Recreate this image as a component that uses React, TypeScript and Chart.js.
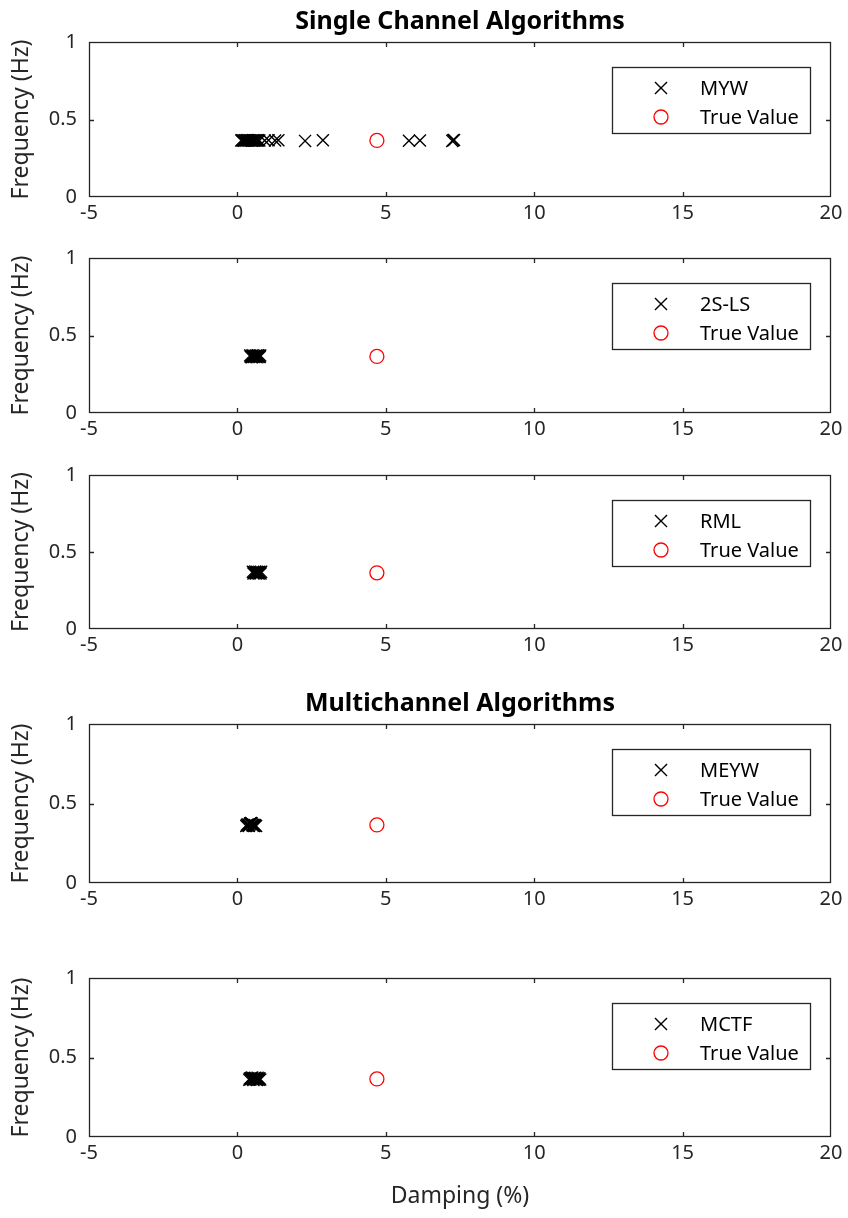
import { useEffect, useRef } from "react";
import { Chart, registerables } from "chart.js";

Chart.register(...registerables);

// ---------- data ----------
const xTickValues = [-5, 0, 5, 10, 15, 20];
const yTickValues = [0, 0.5, 1];

const trueDamping = [4.7];
const trueFreq = [0.365];

const mywDamping = [0.13, 0.16, 0.19, 0.22, 0.25, 0.28, 0.31, 0.34, 0.37, 0.40, 0.43, 0.46, 0.49, 0.52, 0.55, 0.58, 0.61, 0.64, 0.67, 0.70, 0.74, 0.92, 1.05, 1.27, 1.38, 2.28, 2.88, 5.78, 6.15, 7.24, 7.27, 7.3];
const mywFreq = [0.364, 0.366, 0.365, 0.363, 0.366, 0.365, 0.364, 0.367, 0.365, 0.364, 0.366, 0.365, 0.363, 0.366, 0.365, 0.364, 0.366, 0.365, 0.364, 0.366, 0.365, 0.364, 0.366, 0.365, 0.366, 0.362, 0.366, 0.363, 0.365, 0.362, 0.366, 0.368];

const lsDamping = [0.43, 0.45, 0.47, 0.49, 0.51, 0.53, 0.55, 0.57, 0.59, 0.61, 0.63, 0.65, 0.67, 0.69, 0.71, 0.73, 0.75, 0.77];
const lsFreq = [0.371, 0.362, 0.368, 0.360, 0.372, 0.365, 0.361, 0.370, 0.366, 0.363, 0.371, 0.360, 0.367, 0.372, 0.362, 0.369, 0.361, 0.371];

const rmlDamping = [0.52, 0.54, 0.56, 0.58, 0.60, 0.62, 0.64, 0.66, 0.68, 0.70, 0.72, 0.74, 0.76, 0.78, 0.80];
const rmlFreq = [0.372, 0.361, 0.368, 0.364, 0.373, 0.360, 0.366, 0.371, 0.362, 0.369, 0.360, 0.372, 0.365, 0.361, 0.371];

const meywDamping = [0.30, 0.32, 0.34, 0.36, 0.38, 0.40, 0.42, 0.44, 0.46, 0.48, 0.50, 0.52, 0.54, 0.56, 0.58, 0.60, 0.63];
const meywFreq = [0.359, 0.366, 0.361, 0.368, 0.358, 0.364, 0.372, 0.375, 0.377, 0.374, 0.366, 0.360, 0.367, 0.358, 0.365, 0.361, 0.359];

const mctfDamping = [0.40, 0.42, 0.44, 0.46, 0.48, 0.50, 0.52, 0.54, 0.56, 0.58, 0.60, 0.62, 0.64, 0.66, 0.68, 0.70, 0.72, 0.74, 0.77];
const mctfFreq = [0.360, 0.368, 0.362, 0.371, 0.366, 0.374, 0.364, 0.359, 0.370, 0.365, 0.373, 0.361, 0.368, 0.359, 0.372, 0.364, 0.360, 0.369, 0.362];

const seriesLabels = ["MYW", "2S-LS", "RML", "MEYW", "MCTF"];
const seriesDamping = [mywDamping, lsDamping, rmlDamping, meywDamping, mctfDamping];
const seriesFreq = [mywFreq, lsFreq, rmlFreq, meywFreq, mctfFreq];
const panelTitles = ["Single Channel Algorithms", "", "", "Multichannel Algorithms", ""];
const trueLabel = "True Value";
const xTitle = "Damping (%)";
const yTitle = "Frequency (Hz)";

// ---------- layout ----------
const W = 848;
const H = 1218;
const PLOT_LEFT = 89;
const PLOT_RIGHT = 831;
const TOP_SPACE = 42;
const panelTop = [42, 258, 475, 724, 978];
const panelBottom = [197, 413, 629, 883, 1137];
const AXIS_COLOR = "#262626";
const FONT = "'Noto Sans', sans-serif";
const X_RADIUS = 8.5;
const O_RADIUS = 7;

const boxPlugin = {
  id: "matlabBox",
  afterDatasetsDraw(chart: any) {
    const { ctx, chartArea } = chart;
    const { left, right, top, bottom } = chartArea;
    const xs = chart.scales.x;
    const ys = chart.scales.y;
    ctx.save();
    ctx.strokeStyle = AXIS_COLOR;
    ctx.lineWidth = 1.3;
    ctx.strokeRect(left + 0.5, top + 0.5, right - left - 1, bottom - top - 1);
    const tl = 5;
    ctx.beginPath();
    for (const v of xTickValues) {
      const px = Math.round(xs.getPixelForValue(v)) + 0.5;
      if (px <= left + 2 || px >= right - 2) continue;
      ctx.moveTo(px, bottom);
      ctx.lineTo(px, bottom - tl);
      ctx.moveTo(px, top);
      ctx.lineTo(px, top + tl);
    }
    for (const v of yTickValues) {
      const py = Math.round(ys.getPixelForValue(v)) + 0.5;
      if (py <= top + 2 || py >= bottom - 2) continue;
      ctx.moveTo(left, py);
      ctx.lineTo(left + tl, py);
      ctx.moveTo(right, py);
      ctx.lineTo(right - tl, py);
    }
    ctx.stroke();
    ctx.restore();
  },
  afterDraw(chart: any) {
    const { ctx, chartArea } = chart;
    const bx = 612;
    const bw = 198;
    const by = chartArea.top + 25;
    const bh = 66;
    ctx.save();
    ctx.fillStyle = "#ffffff";
    ctx.fillRect(bx, by, bw, bh);
    ctx.strokeStyle = AXIS_COLOR;
    ctx.lineWidth = 1.3;
    ctx.strokeRect(bx + 0.5, by + 0.5, bw, bh);
    ctx.font = `20px ${FONT}`;
    ctx.textBaseline = "middle";
    ctx.textAlign = "left";
    chart.data.datasets.forEach((ds: any, i: number) => {
      const cy = by + 21 + i * 29;
      const cx = 661;
      ctx.strokeStyle = ds.borderColor;
      ctx.lineWidth = ds.borderWidth;
      ctx.beginPath();
      if (ds.pointStyle === "crossRot") {
        const o = ds.pointRadius * Math.SQRT1_2;
        ctx.moveTo(cx - o, cy - o);
        ctx.lineTo(cx + o, cy + o);
        ctx.moveTo(cx - o, cy + o);
        ctx.lineTo(cx + o, cy - o);
      } else {
        ctx.arc(cx, cy, ds.pointRadius, 0, Math.PI * 2);
      }
      ctx.stroke();
      ctx.fillStyle = "#000000";
      ctx.fillText(ds.label, 700, cy + 1);
    });
    ctx.restore();
  },
};

function Panel({ index }: { index: number }) {
  const ref = useRef<HTMLCanvasElement>(null);
  const isLast = index === panelTop.length - 1;
  const bottomSpace = isLast ? H - panelBottom[index] : 44;
  const canvasTop = panelTop[index] - TOP_SPACE;
  const canvasHeight = panelBottom[index] - panelTop[index] + TOP_SPACE + bottomSpace;
  const title = panelTitles[index];

  useEffect(() => {
    if (!ref.current) return;
    const chart = new Chart(ref.current, {
      type: "scatter",
      data: {
        datasets: [
          {
            label: seriesLabels[index],
            data: seriesDamping[index].map((d, k) => ({ x: d, y: seriesFreq[index][k] })),
            pointStyle: "crossRot",
            pointRadius: X_RADIUS,
            borderColor: "#000000",
            backgroundColor: "#000000",
            borderWidth: 1.4,
          },
          {
            label: trueLabel,
            data: trueDamping.map((d, k) => ({ x: d, y: trueFreq[k] })),
            pointStyle: "circle",
            pointRadius: O_RADIUS,
            borderColor: "#ff0000",
            backgroundColor: "rgba(0,0,0,0)",
            borderWidth: 1.3,
          },
        ],
      },
      options: {
        animation: false,
        responsive: false,
        events: [],
        layout: {
          padding: { left: 0, right: W - PLOT_RIGHT, top: title ? 0 : TOP_SPACE, bottom: 0 },
        },
        plugins: {
          legend: { display: false },
          tooltip: { enabled: false },
          title: {
            display: !!title,
            text: title,
            fullSize: false,
            color: "#000000",
            font: { family: FONT, size: 25, weight: "bold" },
            padding: { top: 7, bottom: 5 },
          },
        },
        scales: {
          x: {
            type: "linear",
            min: -5,
            max: 20,
            afterBuildTicks: (s: any) => {
              s.ticks = xTickValues.map((v) => ({ value: v }));
            },
            afterFit: (s: any) => {
              s.height = bottomSpace;
            },
            grid: { display: true, drawOnChartArea: false, drawTicks: false },
            border: { display: false },
            ticks: {
              color: AXIS_COLOR,
              font: { family: FONT, size: 20 },
              padding: 4,
              maxRotation: 0,
              callback: (v: any) => String(v),
            },
            title: {
              display: isLast,
              text: xTitle,
              color: AXIS_COLOR,
              font: { family: FONT, size: 23 },
              padding: { top: 0, bottom: 8 },
            },
          },
          y: {
            type: "linear",
            min: 0,
            max: 1,
            afterBuildTicks: (s: any) => {
              s.ticks = yTickValues.map((v) => ({ value: v }));
            },
            afterFit: (s: any) => {
              s.width = PLOT_LEFT;
            },
            grid: { display: true, drawOnChartArea: false, drawTicks: false },
            border: { display: false },
            ticks: {
              color: AXIS_COLOR,
              font: { family: FONT, size: 20 },
              padding: 12,
              callback: (v: any) => String(v),
            },
            title: {
              display: true,
              text: yTitle,
              color: AXIS_COLOR,
              font: { family: FONT, size: 23 },
              padding: { top: 8, bottom: 0 },
            },
          },
        },
      },
      plugins: [boxPlugin],
    } as any);
    return () => chart.destroy();
  }, [index]);

  return (
    <canvas
      ref={ref}
      width={W}
      height={canvasHeight}
      style={{ position: "absolute", left: 0, top: canvasTop, width: W, height: canvasHeight }}
    />
  );
}

export default function App() {
  return (
    <div style={{ position: "absolute", left: 0, top: 0, width: W, height: H, background: "#ffffff" }}>
      {panelTop.map((_, i) => (
        <Panel key={i} index={i} />
      ))}
    </div>
  );
}
